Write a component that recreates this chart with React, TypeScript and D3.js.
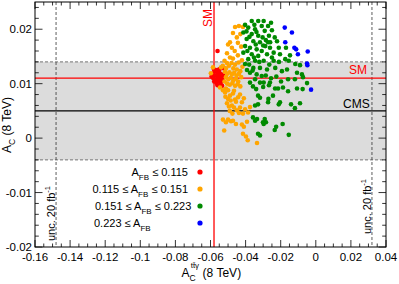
import React from "react";
import * as d3 from "d3";

type Pt = [number, number];

const RED_POINTS: Pt[] = [
  [-0.056, 0.016],
  [-0.0588, 0.0118], [-0.0584, 0.011], [-0.0579, 0.0104], [-0.0576, 0.0122], [-0.0571, 0.0115],
  [-0.0567, 0.0108], [-0.0565, 0.0101], [-0.0562, 0.0125], [-0.0558, 0.0118], [-0.0555, 0.0112],
  [-0.0552, 0.0105], [-0.055, 0.0121], [-0.0547, 0.0114], [-0.0544, 0.0108], [-0.0542, 0.0101],
  [-0.0539, 0.0117], [-0.0536, 0.0111], [-0.0534, 0.0096], [-0.0531, 0.0106], [-0.0527, 0.0115],
  [-0.0523, 0.0128], [-0.056, 0.0097], [-0.058, 0.0126], [-0.0548, 0.0127], [-0.0594, 0.0113],
];

const ORANGE_POINTS: Pt[] = [
  [-0.046, 0.0204], [-0.0438, 0.0206], [-0.0415, 0.0204], [-0.0472, 0.0193], [-0.045, 0.0185],
  [-0.0489, 0.0176], [-0.05, 0.0172], [-0.0478, 0.0166], [-0.0444, 0.0175], [-0.0462, 0.016],
  [-0.043, 0.0191], [-0.0425, 0.0168],
  [-0.0506, 0.0156], [-0.0489, 0.0148], [-0.0472, 0.0146], [-0.0444, 0.0152], [-0.0421, 0.0143],
  [-0.0506, 0.0138], [-0.052, 0.0142], [-0.0495, 0.0133], [-0.048, 0.0138], [-0.046, 0.0135],
  [-0.044, 0.0139], [-0.0418, 0.0131], [-0.053, 0.0133], [-0.0512, 0.0128], [-0.047, 0.0128],
  [-0.045, 0.0126], [-0.043, 0.0123], [-0.054, 0.013], [-0.0586, 0.013], [-0.0598, 0.0119],
  [-0.0518, 0.0122], [-0.0505, 0.0118], [-0.0492, 0.0121], [-0.0478, 0.0117], [-0.0465, 0.012],
  [-0.0452, 0.0115], [-0.0438, 0.0118], [-0.0425, 0.0112], [-0.0512, 0.0112], [-0.0498, 0.0108],
  [-0.0485, 0.0111], [-0.047, 0.0106], [-0.0455, 0.0109], [-0.0442, 0.0104], [-0.052, 0.0104],
  [-0.0505, 0.01], [-0.049, 0.0098], [-0.0475, 0.0101], [-0.046, 0.0096], [-0.0445, 0.0099],
  [-0.043, 0.0095],
  [-0.0546, 0.0093], [-0.0529, 0.0088], [-0.0512, 0.0091], [-0.0517, 0.0084], [-0.05, 0.0088],
  [-0.0489, 0.0078], [-0.0472, 0.0082], [-0.0466, 0.0087], [-0.046, 0.0071], [-0.0443, 0.0075],
  [-0.0432, 0.008], [-0.0421, 0.0066], [-0.041, 0.0073], [-0.0515, 0.0076], [-0.05, 0.0072],
  [-0.0485, 0.0069], [-0.0455, 0.0067], [-0.0506, 0.0064], [-0.0478, 0.006], [-0.0495, 0.0058],
  [-0.0466, 0.0056], [-0.0432, 0.0056], [-0.0449, 0.0051], [-0.0403, 0.0053], [-0.0386, 0.0047],
  [-0.0415, 0.0045], [-0.0438, 0.0046], [-0.049, 0.005], [-0.0475, 0.0045], [-0.0375, 0.0057],
  [-0.0529, 0.0034], [-0.05, 0.0034], [-0.0512, 0.0029], [-0.0483, 0.0031], [-0.0472, 0.0032],
  [-0.0455, 0.0026], [-0.0421, 0.0025], [-0.0392, 0.003], [-0.041, 0.0021], [-0.0522, 0.0014],
  [-0.0415, 0.0008], [-0.0398, 0.0003], [-0.0388, -0.0004], [-0.0335, -0.0009],
];

const GREEN_POINTS: Pt[] = [
  [-0.0403, 0.0208], [-0.0365, 0.0215], [-0.0328, 0.0215], [-0.0385, 0.0203], [-0.0346, 0.02],
  [-0.0308, 0.0206], [-0.0413, 0.0194], [-0.0365, 0.0191], [-0.0328, 0.0188], [-0.0394, 0.0182],
  [-0.0356, 0.0178], [-0.0318, 0.0176], [-0.0403, 0.0169], [-0.0375, 0.0166], [-0.0337, 0.0163],
  [-0.0308, 0.016], [-0.0413, 0.0157], [-0.0365, 0.0154], [-0.0328, 0.0151], [-0.0385, 0.0145],
  [-0.0346, 0.0142], [-0.0403, 0.0136], [-0.0356, 0.0129], [-0.0318, 0.0129], [-0.0375, 0.012],
  [-0.0337, 0.0117], [-0.0308, 0.0114],
  [-0.0297, 0.0215], [-0.0255, 0.0212], [-0.0272, 0.0206], [-0.025, 0.0198], [-0.0291, 0.0197],
  [-0.0303, 0.0185], [-0.0267, 0.0188], [-0.0234, 0.0185], [-0.0221, 0.0178], [-0.0272, 0.0176],
  [-0.0288, 0.0169], [-0.0261, 0.0166], [-0.0211, 0.0166], [-0.017, 0.0166], [-0.024, 0.0157],
  [-0.0278, 0.0154], [-0.0204, 0.0154], [-0.0174, 0.0145], [-0.0154, 0.0142], [-0.0117, 0.0136],
  [-0.0297, 0.0142], [-0.024, 0.0142], [-0.0231, 0.0129], [-0.0278, 0.0126], [-0.0193, 0.0123],
  [-0.0164, 0.0126], [-0.0107, 0.012], [-0.0079, 0.0117],
  [-0.0147, 0.0152], [-0.009, 0.0134], [-0.0073, 0.0112], [-0.005, 0.0101], [-0.0285, 0.0115],
  [-0.0255, 0.011], [-0.0225, 0.0113], [-0.0346, 0.0108], [-0.0375, 0.0102], [-0.0358, 0.0095],
  [-0.034, 0.009], [-0.0329, 0.0078], [-0.0318, 0.0074], [-0.03, 0.0094], [-0.0318, 0.0102],
  [-0.0297, 0.0102], [-0.0261, 0.0102], [-0.0267, 0.0097], [-0.0198, 0.0104], [-0.0158, 0.0108],
  [-0.0119, 0.0108], [-0.0232, 0.0091], [-0.0215, 0.0091], [-0.0187, 0.0093], [-0.0158, 0.0086],
  [-0.0107, 0.0091], [-0.0075, 0.009], [-0.027, 0.0072], [-0.0244, 0.0078], [-0.0272, 0.0066],
  [-0.0211, 0.0062], [-0.0204, 0.0066], [-0.0141, 0.0062], [-0.0119, 0.0055], [-0.009, 0.0064],
  [-0.0291, 0.0035], [-0.0284, 0.0029], [-0.0297, 0.0026], [-0.0226, 0.0021], [-0.0234, 0.0015],
  [-0.0189, 0.0026], [-0.0154, 0.0006],
  [-0.0329, 0.0062], [-0.0346, 0.006], [-0.0358, 0.0038], [-0.0335, 0.0035], [-0.0346, 0.0032],
  [-0.0329, 0.0008], [-0.0318, 0.0005], [-0.0301, 0.0029],
  [-0.0395, 0.0196], [-0.035, 0.0208], [-0.0338, 0.0195], [-0.0378, 0.0186], [-0.0342, 0.0172],
  [-0.039, 0.016], [-0.0352, 0.0148], [-0.0322, 0.014], [-0.038, 0.0135], [-0.03, 0.017],
  [-0.0285, 0.018], [-0.026, 0.0176], [-0.025, 0.0148], [-0.0265, 0.0135], [-0.021, 0.014],
  [-0.036, 0.0124], [-0.0392, 0.0125],
];

const BLUE_POINTS: Pt[] = [
  [-0.0177, 0.0203], [-0.0136, 0.0194], [-0.0174, 0.0176], [-0.0122, 0.0166], [-0.0112, 0.0163],
  [-0.0102, 0.0154], [-0.0046, 0.0159], [-0.005, 0.0137], [-0.0048, 0.0134], [-0.0027, 0.0089],
];

const SERIES_COLORS = ["#ff0000", "#ffa500", "#008a00", "#0000ff"];
const LEGEND_LABELS = [
  { pre: "A", sub: "FB", post: " \u2264 0.115" },
  { pre: "0.115 \u2264 A", sub: "FB", post: " \u2264 0.151" },
  { pre: "0.151 \u2264 A", sub: "FB", post: " \u2264 0.223" },
  { pre: "0.223 \u2264 A", sub: "FB", post: "" },
];

const X_TICKS = [-0.16, -0.14, -0.12, -0.1, -0.08, -0.06, -0.04, -0.02, 0, 0.02, 0.04];
const X_TICK_LABELS = ["-0.16", "-0.14", "-0.12", "-0.1", "-0.08", "-0.06", "-0.04", "-0.02", "0", "0.02", "0.04"];
const Y_TICKS = [-0.02, -0.01, 0, 0.01, 0.02];
const Y_TICK_LABELS = ["-0.02", "-0.01", "0", "0.01", "0.02"];

const SM_X = -0.058;
const SM_Y = 0.011;
const CMS_Y = 0.005;
const CMS_UNC = 0.009;
const X_UNC = 0.09;

const W = 399;
const H = 284;
const L = 35, R = 386, T = 2, B = 247;
const FONT = "'Liberation Sans', Arial, Helvetica, sans-serif";

export default function App() {
  const x = d3.scaleLinear().domain([-0.16, 0.04]).range([L, R]);
  const y = d3.scaleLinear().domain([-0.02, 0.025]).range([B, T]);
  const xMinor = d3.range(-0.16, 0.0401, 0.005);
  const yMinor = d3.range(-0.02, 0.0251, 0.002);
  const series = [RED_POINTS, ORANGE_POINTS, GREEN_POINTS, BLUE_POINTS];
  const legendStartX = [131.5, 92.5, 95, 94];
  const legendY = [172, 189, 206, 223];

  return (
    <svg width={W} height={H} style={{ position: "absolute", left: 0, top: 0, background: "#fff" }} fontFamily={FONT}>
      <rect x={0} y={0} width={W} height={H} fill="#fff" />
      <rect x={L} y={y(CMS_Y + CMS_UNC)} width={R - L} height={y(CMS_Y - CMS_UNC) - y(CMS_Y + CMS_UNC)} fill="#dcdcdc" />
      <line x1={L} x2={R} y1={y(CMS_Y + CMS_UNC)} y2={y(CMS_Y + CMS_UNC)} stroke="#666" strokeWidth={0.9} strokeDasharray="3,2" />
      <line x1={L} x2={R} y1={y(CMS_Y - CMS_UNC)} y2={y(CMS_Y - CMS_UNC)} stroke="#666" strokeWidth={0.9} strokeDasharray="3,2" />
      {[SM_X - X_UNC, SM_X + X_UNC].map((v, i) => (
        <line key={"u" + i} x1={x(v)} x2={x(v)} y1={T} y2={B} stroke="#333" strokeWidth={0.8} strokeDasharray="3,2" />
      ))}
      <line x1={L} x2={R} y1={y(CMS_Y)} y2={y(CMS_Y)} stroke="#000" strokeWidth={1.4} />
      <line x1={L} x2={R} y1={y(SM_Y)} y2={y(SM_Y)} stroke="#ff0000" strokeWidth={1.3} />
      <line x1={x(SM_X)} x2={x(SM_X)} y1={T} y2={B} stroke="#ff0000" strokeWidth={1.3} />
      {series.map((pts, si) =>
        pts.map((p, i) => (
          <circle key={si + "-" + i} cx={x(p[0])} cy={y(p[1])} r={2.3} fill={SERIES_COLORS[si]} />
        ))
      )}
      <rect x={L} y={T} width={R - L} height={B - T} fill="none" stroke="#000" strokeWidth={1} />
      {xMinor.map((v, i) => {
        const major = X_TICKS.some((t) => Math.abs(t - v) < 1e-6);
        const len = major ? 7 : 3.5;
        return (
          <g key={"xt" + i}>
            <line x1={x(v)} x2={x(v)} y1={B} y2={B - len} stroke="#000" strokeWidth={0.8} />
            <line x1={x(v)} x2={x(v)} y1={T} y2={T + len} stroke="#000" strokeWidth={0.8} />
          </g>
        );
      })}
      {yMinor.map((v, i) => {
        const major = Y_TICKS.some((t) => Math.abs(t - v) < 1e-6);
        const len = major ? 7.5 : 3.8;
        return (
          <g key={"yt" + i}>
            <line x1={L} x2={L + len} y1={y(v)} y2={y(v)} stroke="#000" strokeWidth={0.8} />
            <line x1={R} x2={R - len} y1={y(v)} y2={y(v)} stroke="#000" strokeWidth={0.8} />
          </g>
        );
      })}
      {X_TICKS.map((v, i) => (
        <text key={"xl" + i} x={x(v)} y={260.5} fontSize={11.5} textAnchor="middle" fill="#000">
          {X_TICK_LABELS[i]}
        </text>
      ))}
      {Y_TICKS.map((v, i) => (
        <text key={"yl" + i} x={32} y={y(v) + 4} fontSize={11.5} textAnchor="end" fill="#000">
          {Y_TICK_LABELS[i]}
        </text>
      ))}
      <text x={181.5} y={277} fontSize={12} fill="#000">
        A<tspan fontSize={8.5} dy={4}>C</tspan>
        <tspan fontSize={8} dx={-5} dy={-13}>{"tt\u0304\u03b3"}</tspan>
        <tspan fontSize={12} dy={9}>{" (8 TeV)"}</tspan>
      </text>
      <text transform={`translate(11,153) rotate(-90)`} fontSize={12} fill="#000">
        A<tspan fontSize={8.5} dy={4}>C</tspan>
        <tspan fontSize={12} dy={-4}>{" (8 TeV)"}</tspan>
      </text>
      <text transform={`translate(211.5,27) rotate(-90)`} fontSize={12} fill="#ff0000">SM</text>
      <text x={349} y={74} fontSize={12} fill="#ff0000">SM</text>
      <text x={343} y={107.5} fontSize={12} fill="#000">CMS</text>
      <text transform={`translate(55,241) rotate(-90)`} fontSize={11} fill="#000">
        unc. 20 fb<tspan fontSize={7.5} dy={-5}>-1</tspan>
      </text>
      <text transform={`translate(371,234) rotate(-90)`} fontSize={11} fill="#000">
        unc. 20 fb<tspan fontSize={7.5} dy={-5}>-1</tspan>
      </text>
      {LEGEND_LABELS.map((lab, i) => (
        <g key={"lg" + i}>
          <text x={legendStartX[i]} y={legendY[i] + 4} fontSize={11} fill="#000">
            {lab.pre}
            <tspan fontSize={8} dy={3.5}>{lab.sub}</tspan>
            {lab.post !== "" && <tspan fontSize={11} dy={-3.5}>{lab.post}</tspan>}
          </text>
          <circle cx={200} cy={legendY[i]} r={2.6} fill={SERIES_COLORS[i]} />
        </g>
      ))}
    </svg>
  );
}
